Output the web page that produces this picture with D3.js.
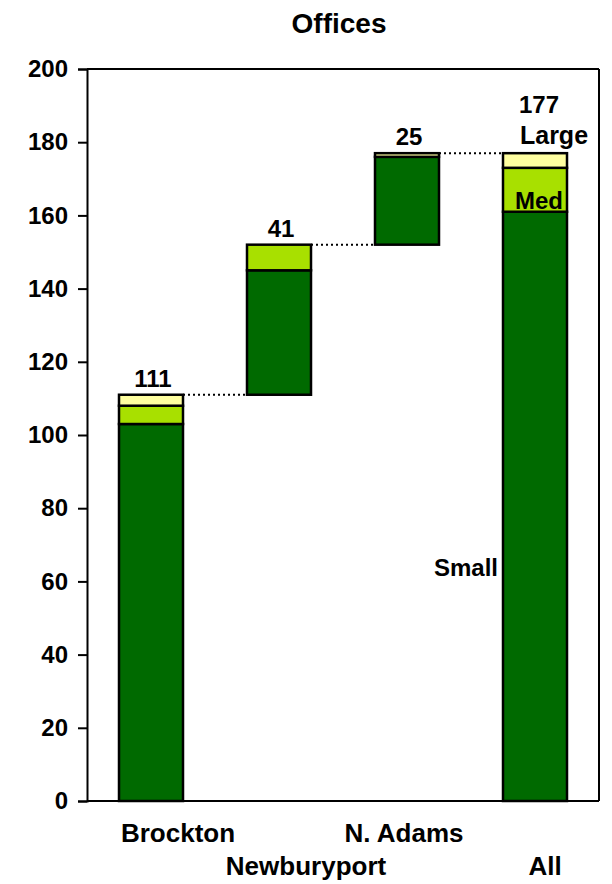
<!DOCTYPE html>
<html><head><meta charset="utf-8">
<script src="https://cdn.jsdelivr.net/npm/d3@7"></script>
<style>body{margin:0;background:#fff}svg{display:block;font-family:"Liberation Sans",Arial,sans-serif;font-weight:bold}</style>
</head><body>
<script>
const categories = ["Brockton","Newburyport","N. Adams","All"];
const smallVals = [103, 34, 24, 161];
const medVals   = [5, 7, 0, 12];
const largeVals = [3, 0, 1, 4];
const bases     = [0, 111, 152, 0];
const totalLabels = ["111","41","25","177"];
const yTicks = [0,20,40,60,80,100,120,140,160,180,200];

const W=612,H=884;
const svg=d3.select("body").append("svg").attr("width",W).attr("height",H);
const x=d3.scaleBand().domain(categories).range([87,599]).paddingInner(0.5).paddingOuter(0.25);
const y=d3.scaleLinear().domain([0,200]).range([801,69]);

// frame
svg.append("line").attr("x1",87).attr("x2",599).attr("y1",y(200)).attr("y2",y(200)).attr("stroke","#000").attr("stroke-width",2);
svg.append("line").attr("x1",599).attr("x2",599).attr("y1",y(200)).attr("y2",y(0)).attr("stroke","#000").attr("stroke-width",2);
svg.append("line").attr("x1",87).attr("x2",599).attr("y1",y(0)).attr("y2",y(0)).attr("stroke","#000").attr("stroke-width",2);

const ax=svg.append("g").attr("transform","translate(87,0)").call(d3.axisLeft(y).tickValues(yTicks).tickSize(9).tickPadding(10));
ax.select(".domain").attr("stroke-width",2);
ax.selectAll(".tick line").attr("stroke-width",2);
ax.selectAll("text").attr("font-size",24).attr("font-weight","bold").attr("font-family","Liberation Sans, Arial, sans-serif").attr("fill","#000");

const colors={small:"#006A00",med:"#A8E000",large:"#FFFFA0"};
const segs=[];
categories.forEach((c,i)=>{
  let b=bases[i];
  [["small",smallVals[i]],["med",medVals[i]],["large",largeVals[i]]].forEach(([k,v])=>{
    if(v>0){segs.push({c,k,y0:b,y1:b+v});}
    b+=v;
  });
});
svg.append("g").selectAll("rect").data(segs).join("rect")
  .attr("x",d=>x(d.c)).attr("width",x.bandwidth())
  .attr("y",d=>y(d.y1)).attr("height",d=>y(d.y0)-y(d.y1))
  .attr("fill",d=>colors[d.k]).attr("stroke","#000").attr("stroke-width",2.5);

// connectors
for(let i=0;i<categories.length-1;i++){
  const top=bases[i]+smallVals[i]+medVals[i]+largeVals[i];
  svg.append("line").attr("x1",x(categories[i])+x.bandwidth()).attr("x2",x(categories[i+1]))
    .attr("y1",y(top)).attr("y2",y(top)).attr("stroke","#000").attr("stroke-width",2).attr("stroke-dasharray","2,3");
}
// total labels
categories.forEach((c,i)=>{
  const top=bases[i]+smallVals[i]+medVals[i]+largeVals[i];
  const off = i===3 ? 40 : 8;
  svg.append("text").attr("x",x(c)+x.bandwidth()/2 + (i===3?4:2)).attr("y",y(top)-off).attr("text-anchor","middle").attr("font-size",24).text(totalLabels[i]);
});
// x labels
const xLabelShift=[27,27,-3,10];
categories.forEach((c,i)=>{
  svg.append("text").attr("x",x(c)+x.bandwidth()/2 + xLabelShift[i]).attr("y",i%2===0?842:875).attr("text-anchor","middle").attr("font-size",26).text(c);
});
// series labels
const ac=x("All");
svg.append("text").attr("x",ac+x.bandwidth()/2+19).attr("y",y(177)-9).attr("text-anchor","middle").attr("font-size",25).text("Large");
svg.append("text").attr("x",ac+x.bandwidth()/2+4).attr("y",y(161)-3).attr("text-anchor","middle").attr("font-size",24).text("Med");
svg.append("text").attr("x",ac-5).attr("y",576).attr("text-anchor","end").attr("font-size",24).text("Small");
// title
svg.append("text").attr("x",339).attr("y",33).attr("text-anchor","middle").attr("font-size",28).text("Offices");
</script>
</body></html>
